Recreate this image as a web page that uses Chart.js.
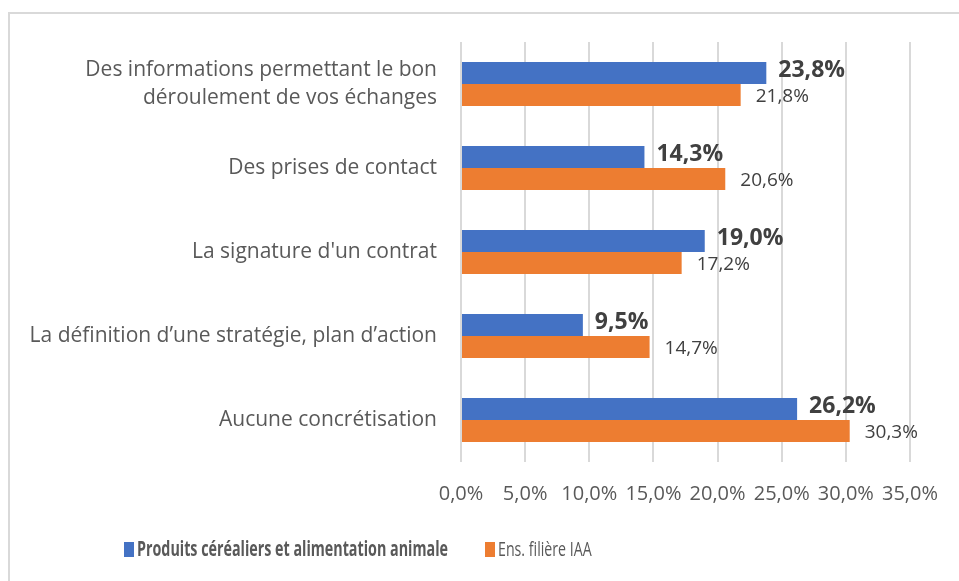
<!DOCTYPE html>
<html>
<head>
<meta charset="utf-8">
<script src="https://cdn.jsdelivr.net/npm/chart.js@4"></script>
<style>
  html, body { margin: 0; padding: 0; background: #ffffff; }
  #wrap { width: 959px; height: 581px; position: relative; }
</style>
</head>
<body>
<div id="wrap"><canvas id="c" width="959" height="581"></canvas></div>
<script>
const categories = [
  ["Des informations permettant le bon", "déroulement de vos échanges"],
  "Des prises de contact",
  "La signature d'un contrat",
  "La définition d\u2019une stratégie, plan d\u2019action",
  "Aucune concrétisation"
];
const seriesNames = ["Produits céréaliers et alimentation animale", "Ens. filière IAA"];
const cerealValues = [23.8, 14.3, 19.0, 9.5, 26.2];
const iaaValues = [21.8, 20.6, 17.2, 14.7, 30.3];
const xTicks = [0, 5, 10, 15, 20, 25, 30, 35];

const BLUE = '#4472C4';
const ORANGE = '#ED7D31';
const TEXT = '#595959';
const LABEL = '#404040';
const FONT = "'Open Sans', 'Noto Sans', sans-serif";

function fmt(v) { return v.toFixed(1).replace('.', ',') + '%'; }

const frame = {
  id: 'frame',
  beforeDraw(chart) {
    const ctx = chart.ctx;
    ctx.save();
    ctx.fillStyle = '#ffffff';
    ctx.fillRect(0, 0, chart.width, chart.height);
    ctx.strokeStyle = '#d9d9d9';
    ctx.lineWidth = 2;
    ctx.beginPath();
    ctx.moveTo(9, chart.height + 2);
    ctx.lineTo(9, 13);
    ctx.lineTo(chart.width + 2, 13);
    ctx.stroke();
    ctx.restore();
  }
};

const valueLabels = {
  id: 'valueLabels',
  afterDatasetsDraw(chart) {
    const ctx = chart.ctx;
    ctx.save();
    ctx.textBaseline = 'middle';
    ctx.textAlign = 'left';
    chart.data.datasets.forEach((ds, di) => {
      const meta = chart.getDatasetMeta(di);
      meta.data.forEach((el, i) => {
        const v = ds.data[i];
        if (di === 0) {
          ctx.font = "bold 23px " + FONT;
          ctx.fillStyle = LABEL;
          ctx.fillText(fmt(v), el.x + 12, el.y - 3);
        } else {
          ctx.font = "19px " + FONT;
          ctx.fillStyle = LABEL;
          ctx.fillText(fmt(v), el.x + 15, el.y + 2);
        }
      });
    });
    ctx.restore();
  }
};

const customLegend = {
  id: 'customLegend',
  afterDraw(chart) {
    const ctx = chart.ctx;
    const y = 549;
    ctx.save();
    ctx.textBaseline = 'middle';
    ctx.textAlign = 'left';
    const items = [
      { text: seriesNames[0], color: BLUE, font: "bold 22px " + FONT, x: 124, sx: 0.65 },
      { text: seriesNames[1], color: ORANGE, font: "20px " + FONT, x: 485, sx: 0.71 }
    ];
    items.forEach(it => {
      ctx.fillStyle = it.color;
      ctx.fillRect(it.x, y - 7, 10, 15);
      ctx.save();
      ctx.translate(it.x + 13, y);
      ctx.scale(it.sx, 1);
      ctx.font = it.font;
      ctx.fillStyle = TEXT;
      ctx.fillText(it.text, 0, 1);
      ctx.restore();
    });
    ctx.restore();
  }
};

new Chart(document.getElementById('c'), {
  type: 'bar',
  data: {
    labels: categories,
    datasets: [
      { label: seriesNames[0], data: cerealValues, backgroundColor: BLUE,
        categoryPercentage: 0.524, barPercentage: 1.0 },
      { label: seriesNames[1], data: iaaValues, backgroundColor: ORANGE,
        categoryPercentage: 0.524, barPercentage: 1.0 }
    ]
  },
  options: {
    indexAxis: 'y',
    responsive: false,
    animation: false,
    layout: { padding: { left: 0, top: 42, right: 49, bottom: 69 } },
    plugins: {
      legend: { display: false },
      tooltip: { enabled: false }
    },
    scales: {
      x: {
        min: xTicks[0],
        max: xTicks[xTicks.length - 1],
        afterBuildTicks(scale) { scale.ticks = xTicks.map(v => ({ value: v })); },
        afterFit(scale) { scale.height = 50; },
        grid: { color: '#d9d9d9', lineWidth: 2, drawTicks: false },
        border: { display: false },
        ticks: {
          padding: 20,
          color: TEXT,
          font: { family: FONT, size: 20 },
          maxRotation: 0,
          autoSkip: false,
          callback: (v) => fmt(v)
        }
      },
      y: {
        afterFit(scale) { scale.width = 461; },
        grid: { display: false, drawTicks: false },
        border: { display: false },
        ticks: {
          padding: 24,
          color: TEXT,
          font: { family: FONT, size: 21, lineHeight: 1.33 },
          autoSkip: false
        }
      }
    }
  },
  plugins: [frame, valueLabels, customLegend]
});
</script>
</body>
</html>
